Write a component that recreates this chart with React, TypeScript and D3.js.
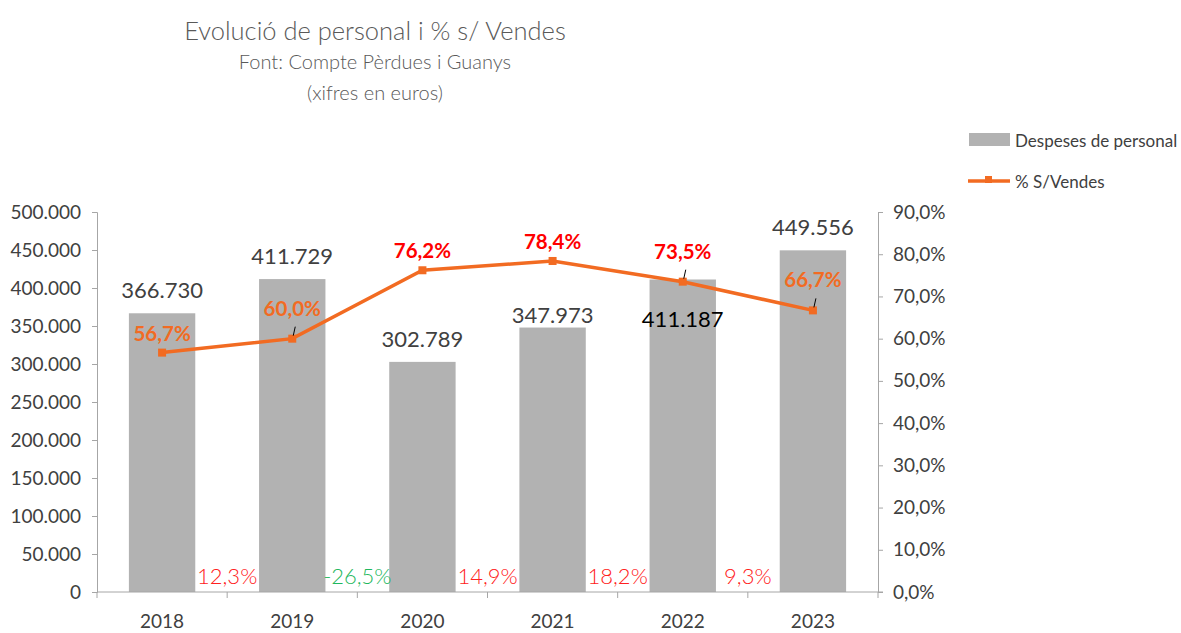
import React, { useEffect, useRef } from "react";
import * as d3 from "d3";

const years = ["2018", "2019", "2020", "2021", "2022", "2023"];
const despeses = [366730, 411729, 302789, 347973, 411187, 449556];
const pctVendes = [56.7, 60.0, 76.2, 78.4, 73.5, 66.7];
const pctColors = ["#F26B22", "#F26B22", "#FF0000", "#FF0000", "#FF0000", "#F26B22"];
const growth = [12.3, -26.5, 14.9, 18.2, 9.3];
const leftTicks = [0, 50000, 100000, 150000, 200000, 250000, 300000, 350000, 400000, 450000, 500000];
const rightTicks = [0, 10, 20, 30, 40, 50, 60, 70, 80, 90];

const fmtThousands = (v: number) =>
  d3.format(",")(v).replace(/,/g, ".");
const fmtPct = (v: number) => v.toFixed(1).replace(".", ",") + "%";

const App = () => {
  const ref = useRef<SVGSVGElement>(null);

  useEffect(() => {
    const svg = d3.select(ref.current);
    svg.selectAll("*").remove();

    const left = 97, right = 878, top = 212, bottom = 592;
    const font = "Lato, 'Open Sans', sans-serif";
    const axisColor = "#A6A6A6";
    const textColor = "#404040";

    const x = d3.scaleBand().domain(years).range([left, right]).paddingInner(0.49).paddingOuter(0.245);
    const xc = (y: string) => (x(y) as number) + x.bandwidth() / 2;
    const step = (right - left) / years.length;
    const yL = d3.scaleLinear().domain([0, 500000]).range([bottom, top]);
    const yR = d3.scaleLinear().domain([0, 90]).range([bottom, top]);

    // title
    const t = svg.append("g").attr("font-family", font).attr("fill", "#595959").attr("text-anchor", "middle");
    t.append("text").attr("x", 375).attr("y", 40).attr("font-size", 25.5).attr("font-weight", 300).text("Evolució de personal i % s/ Vendes");
    t.append("text").attr("x", 375).attr("y", 69).attr("font-size", 20).attr("font-weight", 300).text("Font:  Compte  Pèrdues  i Guanys");
    t.append("text").attr("x", 375).attr("y", 100).attr("font-size", 20).attr("font-weight", 300).text("(xifres en euros)");

    // bars
    svg.append("g").selectAll("rect").data(despeses).join("rect")
      .attr("x", (_, i) => x(years[i]) as number)
      .attr("y", d => yL(d))
      .attr("width", x.bandwidth())
      .attr("height", d => bottom - yL(d))
      .attr("fill", "#B2B2B2");

    // left axis
    const gL = svg.append("g").attr("transform", `translate(${left},0)`)
      .call(d3.axisLeft(yL).tickValues(leftTicks).tickFormat(d => fmtThousands(+d)).tickSize(5).tickPadding(11));
    gL.select(".domain").attr("stroke", axisColor);
    gL.selectAll(".tick line").attr("stroke", axisColor);
    gL.selectAll(".tick text").attr("font-family", font).attr("font-size", 19).attr("fill", textColor);

    // right axis
    const gR = svg.append("g").attr("transform", `translate(${right},0)`)
      .call(d3.axisRight(yR).tickValues(rightTicks).tickFormat(d => fmtPct(+d)).tickSize(5).tickPadding(10));
    gR.select(".domain").attr("stroke", axisColor);
    gR.selectAll(".tick line").attr("stroke", axisColor);
    gR.selectAll(".tick text").attr("font-family", font).attr("font-size", 19).attr("fill", textColor);

    // bottom axis
    svg.append("line").attr("x1", left).attr("x2", right + 5).attr("y1", bottom).attr("y2", bottom).attr("stroke", axisColor);
    svg.append("g").selectAll("line").data(d3.range(years.length + 1)).join("line")
      .attr("x1", i => left + i * step).attr("x2", i => left + i * step)
      .attr("y1", bottom).attr("y2", bottom + 6).attr("stroke", axisColor);
    svg.append("g").selectAll("text").data(years).join("text")
      .attr("x", d => xc(d)).attr("y", 628).attr("text-anchor", "middle")
      .attr("font-family", font).attr("font-size", 19).attr("fill", textColor).text(d => d);

    // bar value labels
    svg.append("g").selectAll("text").data(despeses).join("text")
      .attr("x", (_, i) => xc(years[i]))
      .attr("y", (d, i) => i === 4 ? yL(d) + 48 : i === 3 ? yL(d) - 5 : yL(d) - 15)
      .attr("text-anchor", "middle").attr("font-family", font).attr("font-size", 22)
      .attr("fill", (_, i) => i === 4 ? "#000000" : textColor)
      .text(d => fmtThousands(d));

    // line
    const line = d3.line<number>().x((_, i) => xc(years[i])).y(d => yR(d));
    svg.append("path").datum(pctVendes).attr("d", line).attr("fill", "none")
      .attr("stroke", "#F26B22").attr("stroke-width", 3.5);
    svg.append("g").selectAll("rect").data(pctVendes).join("rect")
      .attr("x", (_, i) => xc(years[i]) - 4).attr("y", d => yR(d) - 4)
      .attr("width", 8).attr("height", 8).attr("fill", "#F26B22");

    // leader lines
    const leaders = [1, 4, 5];
    svg.append("g").selectAll("line").data(leaders).join("line")
      .attr("x1", i => xc(years[i]) + 1).attr("x2", i => xc(years[i]) + 3)
      .attr("y1", i => yR(pctVendes[i]) - 3).attr("y2", i => yR(pctVendes[i]) - 12)
      .attr("stroke", "#000").attr("stroke-width", 1);

    // pct labels
    svg.append("g").selectAll("text").data(pctVendes).join("text")
      .attr("x", (_, i) => xc(years[i]))
      .attr("y", (d, i) => leaders.includes(i) ? yR(d) - 23 : yR(d) - 12)
      .attr("text-anchor", "middle").attr("font-family", font).attr("font-size", 20.5).attr("font-weight", 700)
      .attr("fill", (_, i) => pctColors[i])
      .text(d => fmtPct(d));

    // growth labels
    svg.append("g").selectAll("text").data(growth).join("text")
      .attr("x", (_, i) => left + (i + 1) * step)
      .attr("y", 584)
      .attr("text-anchor", "middle").attr("font-family", font).attr("font-size", 22).attr("font-weight", 300)
      .attr("fill", d => d < 0 ? "#1FB85E" : "#FF2020")
      .text(d => fmtPct(d));

    // legend
    const lg = svg.append("g").attr("font-family", font).attr("font-size", 17).attr("fill", textColor);
    lg.append("rect").attr("x", 969).attr("y", 133).attr("width", 41).attr("height", 13).attr("fill", "#B2B2B2");
    lg.append("text").attr("x", 1015).attr("y", 147).text("Despeses de personal");
    lg.append("line").attr("x1", 968).attr("x2", 1010).attr("y1", 181).attr("y2", 181).attr("stroke", "#F26B22").attr("stroke-width", 3.5);
    lg.append("rect").attr("x", 985).attr("y", 176).attr("width", 7).attr("height", 7).attr("fill", "#F26B22");
    lg.append("text").attr("x", 1015).attr("y", 188).text("% S/Vendes");
  }, []);

  return (
    <svg ref={ref} width={1181} height={633} style={{ display: "block", position: "absolute", left: 0, top: 0, background: "#fff" }} />
  );
};

export default App;
